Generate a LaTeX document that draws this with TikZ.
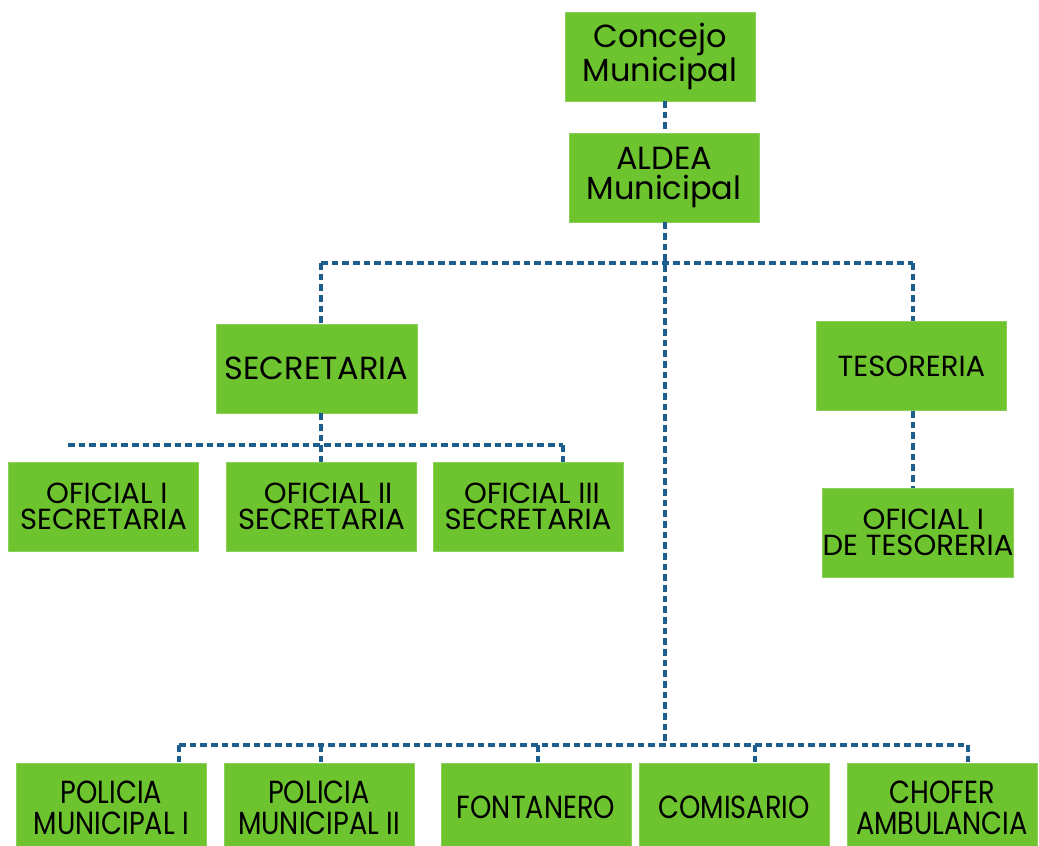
\documentclass[tikz,border=0pt]{standalone}
\usepackage{fontspec}
\setmainfont{Poppins}
\newfontfamily\narrowfont[FakeStretch=0.85]{Poppins}
\usepackage{tikz}
\usetikzlibrary{positioning}
\definecolor{leaf}{RGB}{109,196,47}
\definecolor{ink}{RGB}{30,94,142}

\begin{document}
\begin{tikzpicture}[line cap=butt,line join=miter,x=0.75pt,y=-0.75pt,
    box/.style={rectangle, fill=leaf, draw=leaf!80!white, line width=0.5pt, align=center, inner sep=0pt, minimum width=142.5pt, minimum height=66.75pt},
    big/.style={font=\fontsize{24}{23}\selectfont},
    mid/.style={font=\fontsize{21.8}{20}\selectfont},
    low/.style={font=\narrowfont\fontsize{24}{23.5}\selectfont},
    link/.style={draw=ink, line width=2.3pt, dash pattern=on 5pt off 3pt}]
                    \useasboundingbox (0,0) rectangle (1039,846);

                    \node[box, big] (concejo) at (660,56.5) {Concejo\\Municipal};
                    \node[box, big] (aldea) at (664,177.5) {ALDEA\\Municipal};

                    \node[box, big, minimum width=150.75pt] (secretaria) at (316.5,368.5) {SECRETARIA};
                    \node[box, mid] (tesoreria) at (911.5,366) {TESORERIA};
                    \node[box, mid] (oftes) at (918,532.5) {\hspace{8pt}OFICIAL I\\DE TESORERIA};

                    \node[box, mid] (ofsec1) at (103.5,506.5) {\hspace{5pt}OFICIAL I\\SECRETARIA};
                    \node[box, mid] (ofsec2) at (321.5,506.5) {\hspace{10pt}OFICIAL II\\SECRETARIA};
                    \node[box, mid] (ofsec3) at (528,506.5) {\hspace{6pt}OFICIAL III\\SECRETARIA};

                    \node[box, low] (pol1) at (111.5,807.5) {POLICIA\\MUNICIPAL I};
                    \node[box, low] (pol2) at (319,807.5) {POLICIA\\MUNICIPAL II};
                    \node[box, low] (fontanero) at (536,807.5) {FONTANERO};
                    \node[box, low] (comisario) at (734,807.5) {COMISARIO};
                    \node[box, low] (chofer) at (942,807.5) {CHOFER\\AMBULANCIA};

                    % junctions
                    \coordinate (topL) at (321,263);
                    \coordinate (topR) at (913,263);
                    \coordinate (secL) at (68,445);
                    \coordinate (secR) at (563,445);
                    \coordinate (mainV) at (665,101);
                    \coordinate (botL) at (179,745);
                    \coordinate (botR) at (968,745);

                    \draw[link] (mainV) -- (mainV |- aldea.north);
                    \draw[link] (mainV |- aldea.south) -- (mainV |- botL);
                    \draw[link] (topL) -- (topR);
                    \draw[link] (topL) -- (topL |- secretaria.north);
                    \draw[link] (topR) -- (topR |- tesoreria.north);
                    \draw[link] (topR |- tesoreria.south) -- (topR |- oftes.north);

                    \draw[link] (secL) -- (secR);
                    \draw[link] (secR) -- (secR |- ofsec3.north);
                    \draw[link] (topL |- secretaria.south) -- (topL |- ofsec2.north);

                    \draw[link] (botL) -- (botR);
                    \foreach \n/\x in {pol1/179, pol2/321, fontanero/538, comisario/755, chofer/968}{
                        \coordinate (d\n) at (\x,745);
                        \draw[link] (d\n) -- (d\n |- \n.north);
                    }
                \end{tikzpicture}
\end{document}
